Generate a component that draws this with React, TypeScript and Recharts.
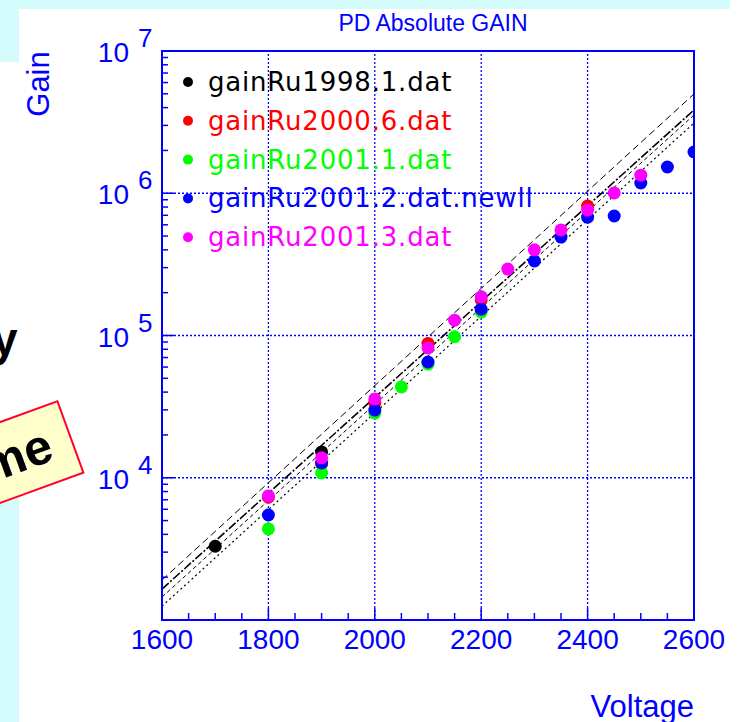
import React from "react";
import { ComposedChart, Scatter, Line, XAxis, YAxis, ReferenceLine, ReferenceArea } from "recharts";

// measured points, voltage vs gain
const volt1998 = [1700, 1900];
const gain1998 = [3300, 15200];

const volt2000 = [1800, 1900, 2000, 2100, 2200, 2400];
const gain2000 = [7300, 12500, 33500, 88000, 178000, 813000];

const volt2001a = [1800, 1900, 2000, 2050, 2100, 2150, 2200];
const gain2001a = [4370, 10800, 28500, 43500, 63000, 98000, 146000];

const volt2001b = [1800, 1900, 2000, 2100, 2200, 2300, 2350, 2400, 2450, 2500, 2550, 2600];
const gain2001b = [5470, 12700, 29900, 65100, 153000, 334000, 492000, 679000, 692000, 1180000, 1530000, 1950000];

const volt2001c = [1800, 1900, 2000, 2100, 2150, 2200, 2250, 2300, 2350, 2400, 2450, 2500];
const gain2001c = [7450, 13800, 35800, 81700, 128000, 187000, 293000, 400000, 552000, 762000, 1005000, 1340000];

// exponential fits (straight on the log axis), end values
const fitVolt = [1600, 2600];
const fitA = [1910, 4990000];
const fitB = [1650, 3850000];
const fitC = [1450, 3550000];
const fitD = [1250, 3120000];

const seriesNames = ["gainRu1998.1.dat", "gainRu2000.6.dat", "gainRu2001.1.dat", "gainRu2001.2.dat.newll", "gainRu2001.3.dat"];
const seriesColors = ["#000000", "#ff0000", "#00ff00", "#0000ff", "#ff00ff"];

const voltLabels = [1600, 1800, 2000, 2200, 2400, 2600];
const voltTicks = [1600, 1650, 1700, 1750, 1800, 1850, 1900, 1950, 2000, 2050, 2100, 2150, 2200, 2250, 2300, 2350, 2400, 2450, 2500, 2550, 2600];
const gainDecades = [3, 4, 5, 6];
const gainLabelled = [4, 5, 6, 7];

const BLUE = "#0000ff";
const TICK_FONT = "'Liberation Sans', Arial, sans-serif";

const gainTicks: number[] = [];
gainDecades.forEach((d) => {
  for (let m = 1; m <= 9; m++) gainTicks.push(m * Math.pow(10, d));
});
gainTicks.push(1e7);

const toRows = (v: number[], g: number[]) => v.map((x, i) => ({ v: x, g: g[i] }));

const scatterSets = [
  toRows(volt1998, gain1998),
  toRows(volt2000, gain2000),
  toRows(volt2001a, gain2001a),
  toRows(volt2001b, gain2001b),
  toRows(volt2001c, gain2001c),
];

const fits = [fitA, fitB, fitC, fitD].map((f) => toRows(fitVolt, f));
const fitDash = ["7 4", "9 2 2 2", "4 3", "2 3"];
const fitWidth = [1, 1.6, 1, 1.2];

const XTick = (p: any) => {
  const v = p.payload.value;
  const major = voltLabels.includes(v);
  return (
    <g>
      <line x1={p.x} x2={p.x} y1={p.y} y2={p.y - (major ? 12 : 7)} stroke={BLUE} strokeWidth={1.5} />
      {major && (
        <text x={p.x} y={p.y + 29} textAnchor="middle" fontSize={28} fill={BLUE} fontFamily={TICK_FONT}>
          {v}
        </text>
      )}
    </g>
  );
};

const YTick = (p: any) => {
  const v = p.payload.value;
  const exp = Math.round(Math.log10(v));
  const major = Math.abs(v - Math.pow(10, exp)) < v * 1e-6;
  return (
    <g>
      <line x1={p.x} x2={p.x + (major ? 12 : 6)} y1={p.y} y2={p.y} stroke={BLUE} strokeWidth={1.5} />
      {major && gainLabelled.includes(exp) && (
        <g fill={BLUE} fontFamily={TICK_FONT}>
          <text x={p.x - 33} y={p.y + 11} textAnchor="end" fontSize={28}>10</text>
          <text x={p.x - 24} y={p.y - 4} fontSize={26}>{exp}</text>
        </g>
      )}
    </g>
  );
};

const dot = (color: string) => (p: any) => <circle cx={p.cx} cy={p.cy} r={6.5} fill={color} />;

const App = () => {
  return (
    <div style={{ position: "absolute", left: 0, top: 0, width: 744, height: 722, background: "#fff", overflow: "hidden" }}>
      <div style={{ position: "absolute", left: 0, top: 0, width: 730, height: 9, background: "#d4fcfc" }} />
      <div style={{ position: "absolute", left: 0, top: 0, width: 19, height: 62, background: "#d4fcfc" }} />
      <div style={{ position: "absolute", left: 0, top: 470, width: 19, height: 252, background: "#d4fcfc" }} />

      <div style={{ position: "absolute", left: 0, top: 0 }}>
        <ComposedChart width={744} height={722} margin={{ top: 51, right: 50, bottom: 72, left: 102 }}>
          <XAxis
            dataKey="v"
            type="number"
            domain={[1600, 2600]}
            ticks={voltTicks}
            interval={0}
            allowDataOverflow
            tickSize={0}
            tickMargin={0}
            tick={XTick}
            axisLine={{ stroke: BLUE, strokeWidth: 2 }}
            height={30}
          />
          <YAxis
            dataKey="g"
            type="number"
            scale="log"
            domain={[1000, 10000000]}
            ticks={gainTicks}
            interval={0}
            allowDataOverflow
            tickSize={0}
            tickMargin={0}
            tick={YTick}
            axisLine={{ stroke: BLUE, strokeWidth: 2 }}
            width={60}
          />
          {[1800, 2000, 2200, 2400].map((x) => (
            <ReferenceLine key={"vx" + x} x={x} stroke={BLUE} strokeWidth={1.3} strokeDasharray="2 2" />
          ))}
          {[1e4, 1e5, 1e6].map((y) => (
            <ReferenceLine key={"hy" + y} y={y} stroke={BLUE} strokeWidth={1.3} strokeDasharray="2 2" />
          ))}
          <ReferenceArea x1={1600} x2={2600} y1={1000} y2={10000000} fill="none" stroke={BLUE} strokeWidth={2} />
          {scatterSets.map((d, i) => (
            <Scatter
              key={seriesNames[i]}
              name={seriesNames[i]}
              data={d}
              dataKey="g"
              fill={seriesColors[i]}
              shape={dot(seriesColors[i])}
              isAnimationActive={false}
            />
          ))}
          {fits.map((d, i) => (
            <Line
              key={"fit" + i}
              data={d}
              dataKey="g"
              type="linear"
              stroke="#000"
              strokeWidth={fitWidth[i]}
              strokeDasharray={fitDash[i]}
              dot={false}
              activeDot={false}
              legendType="none"
              isAnimationActive={false}
            />
          ))}
        </ComposedChart>
      </div>

      <svg width={744} height={722} style={{ position: "absolute", left: 0, top: 0, pointerEvents: "none" }}>
        <text x={433} y={31} textAnchor="middle" fontSize={23} fill={BLUE} fontFamily={TICK_FONT}>
          PD Absolute GAIN
        </text>
        <text
          transform="translate(49 84) rotate(-90)"
          textAnchor="middle"
          fontSize={31}
          fill={BLUE}
          fontFamily={TICK_FONT}
        >
          Gain
        </text>
        <text x={694} y={717} textAnchor="end" fontSize={31} fill={BLUE} fontFamily={TICK_FONT}>
          Voltage
        </text>
        {seriesNames.map((n, i) => {
          const cy = 82 + i * 38.8;
          return (
            <g key={n}>
              <circle cx={188} cy={cy} r={5} fill={seriesColors[i]} />
              <text
                x={208}
                y={cy + 9}
                fontSize={26}
                letterSpacing={0.8}
                fill={seriesColors[i]}
                fontFamily="'DejaVu Sans', sans-serif"
              >
                {n}
              </text>
            </g>
          );
        })}
        <text x={-8} y={355} fontSize={46} fontWeight="bold" fill="#000" fontFamily={TICK_FONT}>
          y
        </text>
      </svg>

      <div
        style={{
          position: "absolute",
          left: 58 - 220,
          top: 400,
          width: 220,
          height: 78,
          boxSizing: "border-box",
          background: "#ffffcc",
          border: "2px solid #ff0033",
          transformOrigin: "top right",
          transform: "rotate(-20deg)",
          textAlign: "right",
          paddingRight: 20,
          lineHeight: "72px",
          fontFamily: TICK_FONT,
          fontWeight: "bold",
          fontSize: 50,
          color: "#000",
          textShadow: "1px 1px 0 #fff",
          overflow: "hidden",
        }}
      >
        me
      </div>
    </div>
  );
};

export default App;
